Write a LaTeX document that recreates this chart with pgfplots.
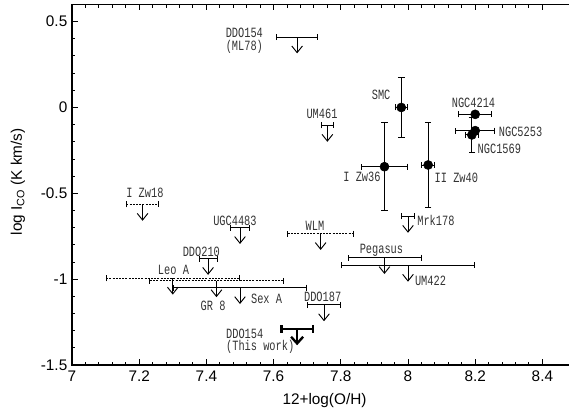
\documentclass[border=0pt]{standalone}
\usepackage{fontspec}
\setmainfont{Liberation Sans}
\newfontfamily\labfont[FakeStretch=0.73]{Liberation Mono}
\usepackage{pgfplots}
\pgfplotsset{compat=1.18}
\usepackage{pgfplotstable}
\usetikzlibrary{arrows.meta}

% detections: x y ex ey
\pgfplotstableread{
x y ex ey
7.98 0.00 0.02 0.175
8.20 -0.04 0.05 0.0
8.20 -0.135 0.06 0.0
8.19 -0.16 0.02 0.105
7.93 -0.345 0.07 0.26
8.06 -0.335 0.02 0.25
}\detect

% detections with vertical error bars
\pgfplotstableread{
x y ey
7.98 0.00 0.175
8.19 -0.16 0.105
7.93 -0.345 0.26
8.06 -0.335 0.25
}\detecty

% upper limits, solid bars
\pgfplotstableread{
x y ex
7.67 0.41 0.062
7.76 -0.105 0.02
7.50 -0.70 0.03
8.00 -0.635 0.02
7.405 -0.88 0.028
7.93 -0.875 0.11
7.50 -1.05 0.20
8.00 -0.92 0.20
7.75 -1.15 0.05
}\limsolid

% upper limits, dashed bars
\pgfplotstableread{
x y ex
7.21 -0.565 0.05
7.74 -0.735 0.10
7.30 -0.995 0.20
7.43 -1.01 0.20
}\limdash

% this work
\pgfplotstableread{
x y ex
7.67 -1.29 0.05
}\limthis

\newcommand\lab[1]{{\labfont\fontsize{10.6}{12}\selectfont #1}}

\tikzset{
  hbar/.style={{Bar[width=4.5pt]}-{Bar[width=4.5pt]}},
  vbar/.style={{Bar[width=5pt]}-{Bar[width=5pt]}},
  downarr/.style={-{Straight Barb[length=5pt,width=8pt]}},
}

\begin{document}
\begin{tikzpicture}
\begin{axis}[
  scale only axis,
  width=378pt, height=270.4pt,
  xmin=7, xmax=8.5, ymin=-1.5, ymax=0.6,
  xtick={7,7.2,...,8.4},
  ytick={-1.5,-1,-0.5,0,0.5},
  minor x tick num=4,
  minor y tick num=4,
  tick align=inside,
  major tick length=4.5pt,
  minor tick length=2.3pt,
  every tick/.style={black, line width=0.7pt},
  axis line style={line width=0.9pt},
  /pgf/number format/assume math mode=true,
  tick label style={font=\fontsize{11.5}{13}\selectfont},
  xticklabel style={yshift=-1pt},
  label style={font=\fontsize{11.5}{13}\selectfont},
  xlabel={12+log(O/H)},
  ylabel={log I\textsubscript{CO} (K km/s)},
  xlabel style={at={(axis description cs:0.501,-0.0999)}, anchor=center},
  ylabel style={at={(axis description cs:-0.1071,0.508)}, anchor=center},
  clip=false,
]
\coordinate (SW) at (rel axis cs:0,0);

% horizontal bars of upper limits
\addplot[black, line width=0.7pt, mark=none, hbar,
  quiver={u={2*\thisrow{ex}}, v=0}]
  table[x expr=\thisrow{x}-\thisrow{ex}, y=y] {\limsolid};
\addplot[black, line width=0.7pt, mark=none, hbar, dash pattern=on 1.5pt off 0.9pt,
  quiver={u={2*\thisrow{ex}}, v=0}]
  table[x expr=\thisrow{x}-\thisrow{ex}, y=y] {\limdash};
\addplot[black, line width=1.8pt, mark=none, {Bar[width=6pt]}-{Bar[width=6pt]},
  quiver={u={2*\thisrow{ex}}, v=0}]
  table[x expr=\thisrow{x}-\thisrow{ex}, y=y] {\limthis};

% downward arrows
\addplot[black, line width=0.7pt, mark=none, downarr,
  quiver={u=0, v=-0.095}] table[x=x, y=y] {\limsolid};
\addplot[black, line width=0.7pt, mark=none, downarr,
  quiver={u=0, v=-0.095}] table[x=x, y=y] {\limdash};
\addplot[black, line width=1.8pt, mark=none, -{Straight Barb[length=5pt,width=9pt]},
  quiver={u=0, v=-0.095}] table[x=x, y=y] {\limthis};

% error bars of detections
\addplot[black, line width=0.7pt, mark=none, hbar,
  quiver={u={2*\thisrow{ex}}, v=0}]
  table[x expr=\thisrow{x}-\thisrow{ex}, y=y] {\detect};
\addplot[black, line width=0.7pt, mark=none, vbar,
  quiver={u=0, v={2*\thisrow{ey}}}]
  table[x=x, y expr=\thisrow{y}-\thisrow{ey}] {\detecty};

% detections
\addplot[black, only marks, mark=*, mark size=3.4pt] table[x=x, y=y] {\detect};

% labels
\begin{scope}[every node/.style={text=black!80, inner sep=0pt}]
\node at (axis cs:7.513,0.434) {\lab{DDO154}};
\node at (axis cs:7.513,0.353) {\lab{(ML78)}};
\node at (axis cs:7.920,0.074) {\lab{SMC}};
\node at (axis cs:8.195,0.027) {\lab{NGC4214}};
\node at (axis cs:8.335,-0.141) {\lab{NGC5253}};
\node at (axis cs:8.272,-0.240) {\lab{NGC1569}};
\node at (axis cs:7.744,-0.037) {\lab{UM461}};
\node at (axis cs:7.863,-0.403) {\lab{I Zw36}};
\node at (axis cs:8.144,-0.409) {\lab{II Zw40}};
\node at (axis cs:8.083,-0.659) {\lab{Mrk178}};
\node at (axis cs:7.723,-0.688) {\lab{WLM}};
\node at (axis cs:7.921,-0.833) {\lab{Pegasus}};
\node at (axis cs:8.067,-1.007) {\lab{UM422}};
\node at (axis cs:7.746,-1.101) {\lab{DDO187}};
\node at (axis cs:7.217,-0.496) {\lab{I Zw18}};
\node at (axis cs:7.485,-0.659) {\lab{UGC4483}};
\node at (axis cs:7.385,-0.840) {\lab{DDO210}};
\node at (axis cs:7.302,-0.949) {\lab{Leo A}};
\node at (axis cs:7.420,-1.158) {\lab{GR 8}};
\node at (axis cs:7.579,-1.112) {\lab{Sex A}};
\node[anchor=west] at (axis cs:7.458,-1.316) {\lab{DDO154}};
\node[anchor=west] at (axis cs:7.458,-1.397) {\lab{(This work)}};
\end{scope}
\end{axis}
\pgfresetboundingbox
\path[use as bounding box] ([xshift=-54pt,yshift=-36pt]SW) rectangle ([xshift=372.75pt,yshift=273.75pt]SW);
\end{tikzpicture}
\end{document}
